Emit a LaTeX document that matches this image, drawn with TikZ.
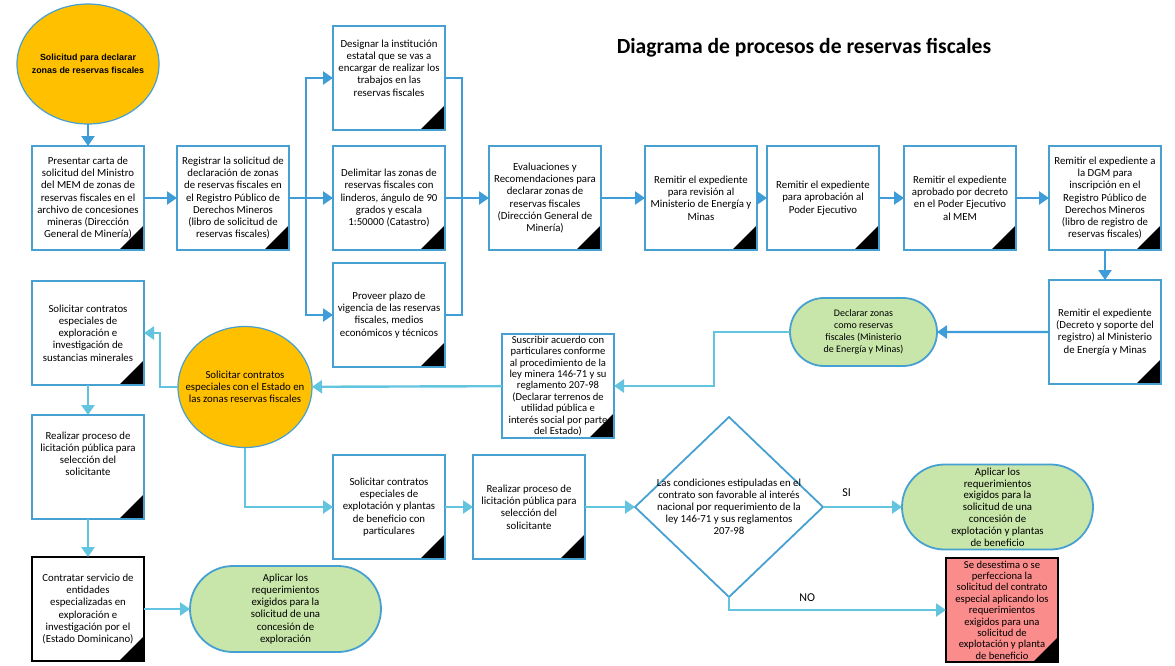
\documentclass[tikz,border=0pt]{standalone}
\usepackage{fontspec}
\setmainfont{Carlito}
\newfontfamily\arialfont{Liberation Sans}
\usepackage{xcolor}
\usepackage{tikz}
\usetikzlibrary{shapes,arrows.meta,positioning}
\definecolor{boxblue}{RGB}{70,160,210}
\definecolor{arrowblue}{RGB}{62,156,216}
\definecolor{arrowcyan}{RGB}{98,196,222}
\definecolor{startorange}{RGB}{255,192,0}
\definecolor{endgreen}{RGB}{200,230,170}
\definecolor{failred}{RGB}{250,140,140}
\newcommand{\boxfont}{\fontsize{10.8}{12.2}\selectfont}
\newcommand{\tightfont}{\fontsize{10.6}{11.4}\selectfont}
\tikzstyle{block} = [draw=boxblue, line width=1.8pt, rectangle, fill=white, outer sep=0pt,
    minimum width=112pt, minimum height=104pt, inner sep=1pt, align=center, font=\boxfont,
    path picture={\fill[black] (path picture bounding box.south east) -- ++(-25pt,0pt) -- ++(25pt,25pt) -- cycle;}]
\tikzstyle{darkblock} = [block, draw=black]
\tikzstyle{event} = [draw=boxblue, line width=1.2pt, ellipse, fill=startorange, outer sep=0pt]
\tikzstyle{terminal} = [draw=boxblue, line width=1.8pt, rounded rectangle, fill=endgreen, outer sep=0pt,
    inner sep=1pt, align=center, font=\boxfont]
\tikzstyle{decision} = [draw=boxblue, line width=1.8pt, diamond, inner sep=0pt, outer sep=0pt,
    minimum width=188pt, minimum height=180pt]
\tikzstyle{txt} = [align=center, font=\boxfont]
\tikzstyle{coord} = [coordinate]
\tikzstyle{connector} = [-{Triangle[length=10pt,width=13pt]}, line width=2.4pt, color=arrowblue]
\tikzstyle{cconnector} = [connector, color=arrowcyan]
\tikzstyle{bus} = [line width=2.4pt, color=arrowblue]

\begin{document}
\begin{tikzpicture}[x=1pt,y=-1pt]
		\useasboundingbox (0,0) rectangle (1175,665);
		\node[font=\fontsize{21.6}{26}\selectfont\bfseries] (title) at (804,48) {Diagrama de procesos de reservas fiscales};
		
		% first row
		\node[block] (pres) at (88,198) {Presentar carta de\\solicitud del Ministro\\del MEM de zonas de\\reservas fiscales en el\\archivo de concesiones\\mineras (Dirección\\General de Minería)};
		\node[block, right=33pt of pres] (reg) {Registrar la solicitud de\\declaración de zonas\\de reservas fiscales en\\el Registro Público de\\Derechos Mineros\\(libro de solicitud de\\reservas fiscales)};
		\node[block, right=44pt of reg] (delim) {Delimitar las zonas de\\reservas fiscales con\\linderos, ángulo de 90\\grados y escala\\1:50000 (Catastro)};
		\node[block, above=16pt of delim] (desig) {Designar la institución\\estatal que se vas a\\encargar de realizar los\\trabajos en las\\reservas fiscales\\[8pt]};
		\node[block, below=13pt of delim] (prov) {Proveer plazo de\\vigencia de las reservas\\fiscales, medios\\económicos y técnicos};
		\node[block, right=44pt of delim] (eval) {Evaluaciones y\\Recomendaciones para\\declarar zonas de\\reservas fiscales\\(Dirección General de\\Minería)};
		\node[block, right=44pt of eval] (rev) {Remitir el expediente\\para revisión al\\Ministerio de Energía y\\Minas};
		\node[block, right=10pt of rev] (apr) {Remitir el expediente\\para aprobación al\\Poder Ejecutivo};
		\node[block, right=25pt of apr] (dec) {Remitir el expediente\\aprobado por decreto\\en el Poder Ejecutivo\\al MEM};
		\node[block, right=33pt of dec] (dgm) {Remitir el expediente a\\la DGM para\\inscripción en el\\Registro Público de\\Derechos Mineros\\(libro de registro de\\reservas fiscales)};
		
		\node[event, minimum width=142pt, minimum height=120pt, above=22pt of pres] (start) {};
		\node[txt, font=\arialfont\fontsize{8.9}{13}\selectfont\bfseries] (starttxt) at (start) {Solicitud para declarar\\zonas de reservas fiscales};
		
		% way back
		\node[block, below=30pt of dgm] (dec2) {Remitir el expediente\\(Decreto y soporte del\\registro) al Ministerio\\de Energía y Minas};
		\node[terminal, minimum width=149pt, minimum height=68pt, left=112pt of dec2, font=\fontsize{10}{12}\selectfont] (decl) {Declarar zonas\\como reservas\\fiscales (Ministerio\\de Energía y Minas)};
		\node[block, font=\tightfont, inner ysep=0pt] (susc) at (558,386) {Suscribir acuerdo con\\particulares conforme\\al procedimiento de la\\ley minera 146-71 y su\\reglamento 207-98\\(Declarar terrenos de\\utilidad pública e\\interés social por parte\\del Estado)};
		\node[event, minimum width=134pt, minimum height=121pt] (contr) at (245,387) {};
		\node[txt] (contrtxt) at (contr) {Solicitar contratos\\especiales con el Estado en\\las zonas reservas fiscales};
		
		% left column
		\node[block, below=31pt of pres] (expl) {Solicitar contratos\\especiales de\\exploración e\\investigación de\\sustancias minerales};
		\node[block, below=30pt of expl] (lic) {Realizar proceso de\\licitación pública para\\selección del\\solicitante\\[14pt]};
		\node[darkblock, below=38pt of lic] (serv) {Contratar servicio de\\entidades\\especializadas en\\exploración e\\investigación por el\\(Estado Dominicano)};
		\node[terminal, minimum width=193pt, minimum height=86pt, right=46pt of serv] (aplexp) {Aplicar los\\requerimientos\\exigidos para la\\solicitud de una\\concesión de\\exploración};
		
		% bottom row
		\node[block] (explot) at (389,507) {Solicitar contratos\\especiales de\\explotación y plantas\\de beneficio con\\particulares};
		\node[block, right=28pt of explot] (licb) {Realizar proceso de\\licitación pública para\\selección del\\solicitante};
		\node[decision, right=50pt of licb] (cond) {};
		\node[txt, font=\fontsize{10.8}{12}\selectfont] (condtxt) at (cond) {Las condiciones estipuladas en el\\contrato son favorable al interés\\nacional por requerimiento de la\\ley 146-71 y sus reglamentos\\207-98};
		\node[terminal, minimum width=193pt, minimum height=85pt, right=79pt of cond, font=\fontsize{10.8}{11.8}\selectfont, inner ysep=0pt] (aplexplot) {Aplicar los\\requerimientos\\exigidos para la\\solicitud de una\\concesión de\\explotación y plantas\\de beneficio};
		\node[darkblock, fill=failred, font=\tightfont, inner ysep=0pt] (fail) at (1002,610) {Se desestima o se\\perfecciona la\\solicitud del contrato\\especial aplicando los\\requerimientos\\exigidos para una\\solicitud de\\explotación y planta\\de beneficio};
		
		\node[coord, right=17pt of reg] (split) {};
		\node[coord, right=17pt of delim] (merge) {};
		
		\draw[connector] (start) -- (pres);
		\draw[connector] (pres) -- (reg);
		\draw[bus] (reg) -- (split);
		\draw[connector] (split) |- (desig);
		\draw[connector] (split) -- (delim);
		\draw[connector] (split) |- (prov);
		\draw[bus] (desig) -| (merge) |- (prov);
		\draw[connector] (delim) -- (eval);
		\draw[connector] (eval) -- (rev);
		\draw[connector] (rev) -- (apr);
		\draw[connector] (apr) -- (dec);
		\draw[connector] (dec) -- (dgm);
		\draw[connector] (dgm) -- (dec2);
		\draw[connector] (dec2) -- (decl);
		\draw[cconnector] (decl.west) -- ++(-76pt,0pt) |- (susc);
		\draw[cconnector] (susc) -- (contr);
		\draw[cconnector] (contr.west) -- ++(-18pt,0pt) |- (expl);
		\draw[cconnector] (expl) -- (lic);
		\draw[cconnector] (lic) -- (serv);
		\draw[cconnector] (serv) -- (aplexp);
		\draw[cconnector] (contr) |- (explot);
		\draw[cconnector] (explot) -- (licb);
		\draw[cconnector] (licb) -- (cond);
		\draw[cconnector] (cond) -- node[pos=0.3, above=6pt, text=black, font=\fontsize{12}{14}\selectfont] (si) {SI} (aplexplot);
		\draw[cconnector] (cond.south) |- node[pos=0.68, above=4pt, text=black, font=\fontsize{12}{14}\selectfont] (no) {NO} (fail);
	\end{tikzpicture}
\end{document}
